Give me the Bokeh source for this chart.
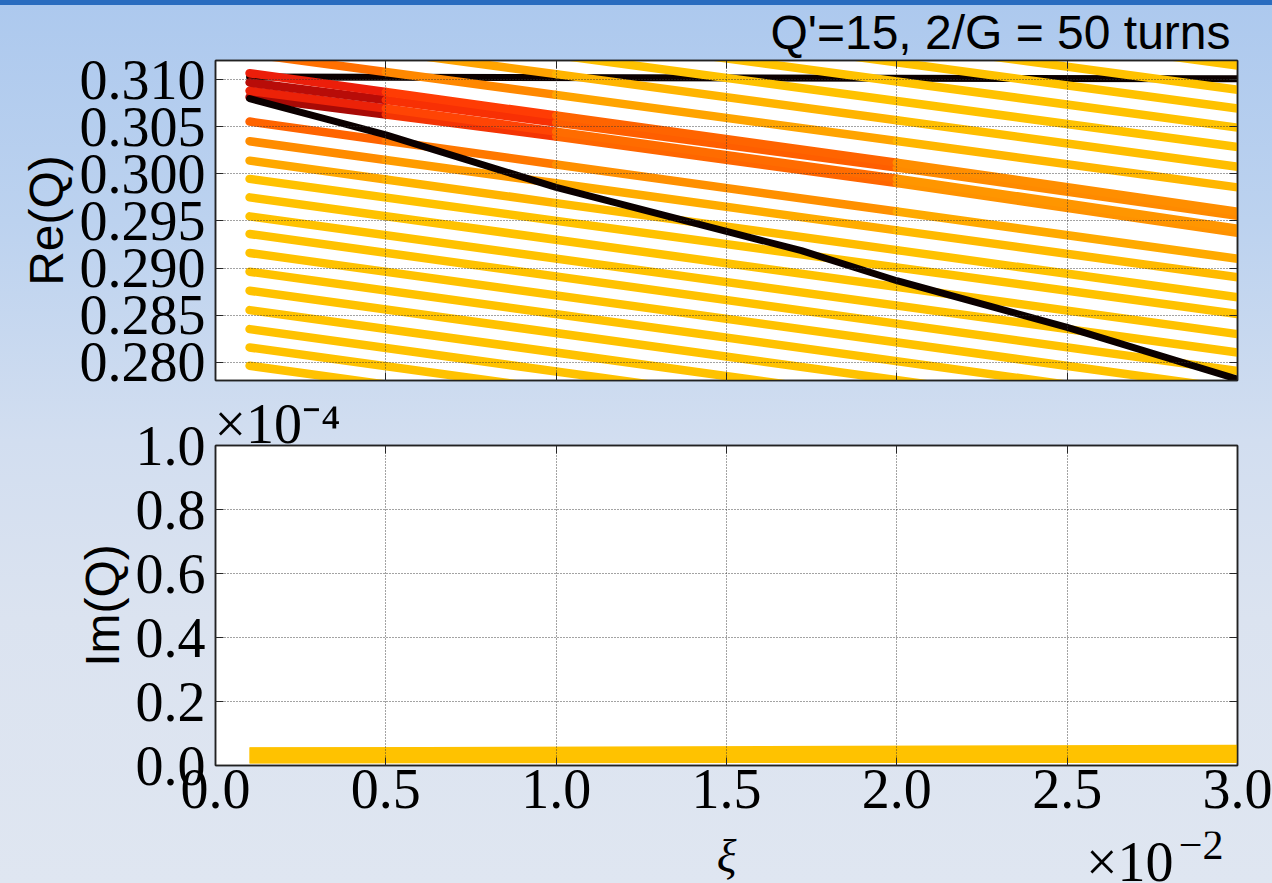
from bokeh.plotting import figure
from bokeh.models import Range1d, FixedTicker, NumeralTickFormatter, LinearAxis, ColumnDataSource, Column, Title
from bokeh.core.properties import value
from bokeh.embed import file_html
from bokeh.resources import INLINE

# ---------------- data ----------------
# xi is plotted in units of 1e-2, Im(Q) in units of 1e-4
xi_ticks = [0.0, 0.5, 1.0, 1.5, 2.0, 2.5, 3.0]
re_ticks = [0.280, 0.285, 0.290, 0.295, 0.300, 0.305, 0.310]
im_ticks = [0.0, 0.2, 0.4, 0.6, 0.8, 1.0]

# ends of the scanned xi interval
xi_span = [0.1, 3.0]

# weak synchrotron sidebands above the coherent modes: Re(Q) at both ends
upper_re_left = [0.32572, 0.32314, 0.32115, 0.31912, 0.31705]
upper_re_right = [0.31152, 0.30894, 0.30695, 0.30492, 0.30285]

# weak sidebands below the coherent modes
lower_re_left = [0.29947, 0.29751, 0.29549, 0.29362, 0.29160, 0.28961,
                 0.28759, 0.28553, 0.28351, 0.28156, 0.27962]
lower_re_right = [0.28511, 0.28298, 0.28102, 0.27907, 0.27710, 0.27510,
                  0.27310, 0.27100, 0.26900, 0.26710, 0.26510]

# stronger modes, read at several xi values, with the colour of each piece
knot_xi = [0.1, 0.5, 1.0, 2.0, 3.0]
mode_p2 = [0.31497, 0.31303, 0.31060, 0.30570, 0.30077]
mode_p1 = [0.31277, 0.31083, 0.30840, 0.30350, 0.29857]
mode_a = [0.31070, 0.30870, 0.30620, 0.30120, 0.29599]
mode_b = [0.30971, 0.30785, 0.30546, 0.30067, 0.29556]
mode_c = [0.30883, 0.30695, 0.30449, 0.29950, 0.29417]
mode_d = [0.30815, 0.30631, 0.30397, 0.29902, 0.29374]
mode_e = [0.30556, 0.30353, 0.30100, 0.29600, 0.29098]
mode_f = [0.30347, 0.30148, 0.29900, 0.29400, 0.28902]
mode_g = [0.30141, 0.29941, 0.29690, 0.29190, 0.28689]

col_p2 = ["#ff9400", "#ffa400", "#ffb400", "#ffbe00"]
col_p1 = ["#ff7000", "#ff8800", "#ffa400", "#ffb600"]
col_a = ["#ec1e0a", "#ff3c04", "#ff6400", "#ff8e00"]
col_b = ["#b80c08", "#f83004", "#ff5e00", "#ff8a00"]
col_c = ["#ec2208", "#ff4404", "#ff6c00", "#ff9600"]
col_d = ["#a80a06", "#f43404", "#ff6600", "#ff9200"]
col_e = ["#ff6400", "#ff7800", "#ff9000", "#ffaa00"]
col_f = ["#ff8c00", "#ff9c00", "#ffac00", "#ffba00"]
col_g = ["#ffa800", "#ffb400", "#ffbc00", "#ffc200"]

# sigma mode (flat) and pi mode (shifted by the beam-beam force)
sigma_xi = [0.1, 3.0]
sigma_re = [0.31030, 0.31010]
pi_xi = [0.1, 0.5, 1.0, 1.5, 1.72, 2.0, 2.5, 3.0]
pi_re = [0.30800, 0.30415, 0.29857, 0.29390, 0.29184, 0.28865, 0.28369, 0.27819]

# imaginary part (x 1e-4) of the two visible modes
im_xi = [0.1, 3.0]
im_mode1 = [0.032, 0.033]
im_mode2 = [0.031, 0.040]

YELLOW = "#ffc200"
BLACK = "#0b0000"
SERIF = "Liberation Serif"
SANS = "Liberation Sans"
AXIS_COLOR = "#222222"

xr = Range1d(0.0, 3.0)


def frame_axis(ticks, visible_labels):
    ax = LinearAxis(ticker=FixedTicker(ticks=ticks), major_tick_in=8, major_tick_out=0,
                    minor_tick_line_color=None, axis_line_color=AXIS_COLOR, axis_line_width=1.5,
                    major_tick_line_color=AXIS_COLOR)
    if visible_labels:
        ax.major_label_text_color = "black"
        ax.major_label_text_font = SERIF
        ax.major_label_text_font_size = "56px"
        ax.formatter = NumeralTickFormatter(format="0.0")
    else:
        ax.major_label_text_color = None
        ax.major_label_text_font_size = "1px"
        ax.major_label_standoff = 0
    return ax


def make_panel(y_range, y_ticks, top, bottom, x_labels):
    p = figure(frame_width=1022, frame_height=320, x_range=xr, y_range=y_range,
               x_axis_location=None, y_axis_location=None,
               min_border_left=215, min_border_right=35,
               min_border_top=top, min_border_bottom=bottom,
               output_backend="svg", toolbar_location=None,
               background_fill_color="white", border_fill_color=None,
               outline_line_color=AXIS_COLOR, outline_line_width=1.5)
    bottom_ax = frame_axis(xi_ticks, x_labels)
    left_ax = frame_axis(y_ticks, True)
    p.add_layout(bottom_ax, "below")
    p.add_layout(left_ax, "left")
    p.add_layout(frame_axis(xi_ticks, False), "above")
    p.add_layout(frame_axis(y_ticks, False), "right")
    left_ax.major_label_standoff = 10
    left_ax.axis_label_text_font = SANS
    left_ax.axis_label_text_font_style = "normal"
    left_ax.axis_label_text_font_size = "48px"
    left_ax.axis_label_text_color = "black"
    left_ax.axis_label_standoff = 4
    for dim, ticks in ((0, xi_ticks), (1, y_ticks)):
        p.grid[dim].ticker = FixedTicker(ticks=ticks)
        p.grid[dim].grid_line_color = "#333333"
        p.grid[dim].grid_line_dash = "1 2"
        p.grid[dim].grid_line_width = 1
        p.grid[dim].grid_line_alpha = 0.9
        p.grid[dim].level = "overlay"
    return p, bottom_ax, left_ax


# ---------------- Re(Q) panel ----------------
p1, p1_x, p1_y = make_panel(Range1d(0.27805, 0.31205), re_ticks, 60, 13, False)
p1_y.formatter = NumeralTickFormatter(format="0.000")
p1_y.axis_label = "Re(Q)"
p1.title = Title(text="Q'=15, 2/G = 50 turns", align="right", offset=7, standoff=4,
                 text_font=SANS, text_font_size="48px", text_font_style="normal",
                 text_color="black")

# sigma mode sits underneath the sidebands
p1.line(sigma_xi, sigma_re, line_color=BLACK, line_width=7, line_cap="round")

seg = dict(x0=[], y0=[], x1=[], y1=[], color=[], width=[])
for left, right in zip(upper_re_left + lower_re_left, upper_re_right + lower_re_right):
    seg["x0"].append(xi_span[0]); seg["x1"].append(xi_span[1])
    seg["y0"].append(left); seg["y1"].append(right)
    seg["color"].append(YELLOW); seg["width"].append(8.5)

modes = [(mode_p2, col_p2), (mode_p1, col_p1), (mode_g, col_g), (mode_f, col_f),
         (mode_e, col_e), (mode_d, col_d), (mode_c, col_c), (mode_b, col_b), (mode_a, col_a)]
for vals, cols in modes:
    for i in range(len(knot_xi) - 1):
        seg["x0"].append(knot_xi[i]); seg["x1"].append(knot_xi[i + 1])
        seg["y0"].append(vals[i]); seg["y1"].append(vals[i + 1])
        seg["color"].append(cols[i]); seg["width"].append(8.5)

p1.segment(x0="x0", y0="y0", x1="x1", y1="y1", line_color="color", line_width="width",
           line_cap="round", source=ColumnDataSource(seg))

# pi mode on top
p1.line(pi_xi, pi_re, line_color=BLACK, line_width=7, line_join="round", line_cap="round")

# ---------------- Im(Q) panel ----------------
p2, p2_x, p2_y = make_panel(Range1d(0.0, 1.0), im_ticks, 52, 66, True)
p2_x.major_label_standoff = 4
p2_y.formatter = NumeralTickFormatter(format="0.0")
p2_y.axis_label = "Im(Q)"
p2.title = Title(text="×10⁻⁴", align="left", offset=-1, standoff=-19,
                 text_font=SERIF, text_font_size="56px", text_font_style="normal",
                 text_color="black")

p2.line(im_xi, im_mode1, line_color=YELLOW, line_width=16, line_cap="butt")
p2.line(im_xi, im_mode2, line_color=YELLOW, line_width=16, line_cap="butt")

# ---------------- xi label and axis multiplier ----------------
foot = figure(frame_width=1022, frame_height=52, x_range=xr, y_range=Range1d(0, 52),
              x_axis_location=None, y_axis_location=None,
              min_border_left=215, min_border_right=35, min_border_top=0, min_border_bottom=0,
              output_backend="svg", toolbar_location=None,
              background_fill_color=None, border_fill_color=None, outline_line_color=None)
foot.grid.visible = False
foot.text(x=[1.5], y=[27], text=["ξ"], text_align="center", text_baseline="alphabetic",
          text_font=value(SERIF), text_font_style="italic", text_font_size=value("46px"),
          text_color="black")
foot.text(x=[3.0], y=[22], text=["×10"], x_offset=-64, text_align="right",
          text_baseline="alphabetic", text_font=value(SERIF), text_font_size=value("56px"),
          text_color="black")
foot.text(x=[3.0], y=[39], text=["−2"], x_offset=-14, text_align="right",
          text_baseline="alphabetic", text_font=value(SERIF), text_font_size=value("42px"),
          text_color="black")

page = Column(children=[p1, p2, foot], spacing=0,
              styles={"background": "linear-gradient(180deg, #2a6cbf 0px, #2a6cbf 5px, "
                                    "#adc9ee 5px, #bcd2ef 25%, #d2def0 50%, #dbe3f0 70%, #dfe6f1 100%)"})

open("out.html", "w").write(file_html(page, INLINE))
